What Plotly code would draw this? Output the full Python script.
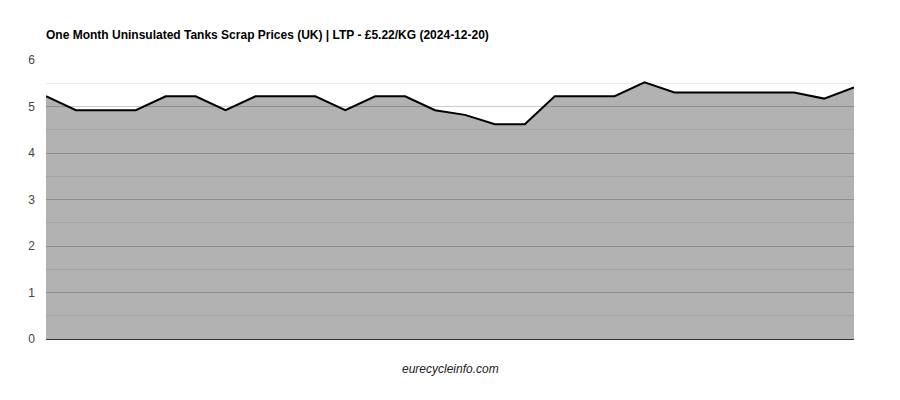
import plotly.graph_objects as go

dates = ["2024-11-23", "2024-11-24", "2024-11-25", "2024-11-26", "2024-11-27", "2024-11-28",
         "2024-11-29", "2024-11-30", "2024-12-01", "2024-12-02", "2024-12-03", "2024-12-04",
         "2024-12-05", "2024-12-06", "2024-12-07", "2024-12-08", "2024-12-09", "2024-12-10",
         "2024-12-11", "2024-12-12", "2024-12-13", "2024-12-14", "2024-12-15", "2024-12-16",
         "2024-12-17", "2024-12-18", "2024-12-19", "2024-12-20"]
prices = [5.22, 4.92, 4.92, 4.92, 5.22, 5.22, 4.92, 5.22, 5.22, 5.22, 4.92, 5.22, 5.22, 4.92,
          4.82, 4.62, 4.62, 5.22, 5.22, 5.22, 5.52, 5.30, 5.30, 5.30, 5.30, 5.30, 5.17, 5.41]
y_ticks = [0, 1, 2, 3, 4, 5, 6]

title_text = "One Month Uninsulated Tanks Scrap Prices (UK) | LTP - £5.22/KG (2024-12-20)"
source_text = "eurecycleinfo.com"

# page body has an 8px margin; compensate so the plot lands where the reference has it
OFF = 8
W, H = 900, 400
plot_l, plot_r, plot_t, plot_b = 46 - OFF, 854 - OFF, 60 - OFF, 339 - OFF

fig = go.Figure()
fig.add_trace(go.Scatter(
    x=dates, y=prices, mode="lines", fill="tozeroy",
    fillcolor="rgba(0,0,0,0.3)",
    line=dict(color="#000000", width=2),
    hoverinfo="x+y",
))

fig.update_layout(
    width=W, height=H,
    margin=dict(l=plot_l, r=W - plot_r, t=plot_t, b=H - plot_b, pad=0),
    plot_bgcolor="white", paper_bgcolor="white",
    showlegend=False,
    font=dict(family="Arial, Liberation Sans, sans-serif", size=12, color="#444"),
    title=dict(text="<b>" + title_text + "</b>", x=plot_l / W, xanchor="left",
               y=1 - (35 - OFF) / H, yanchor="middle", yref="container",
               font=dict(size=12, color="#000")),
    xaxis=dict(type="category", showticklabels=False, showgrid=False, ticks="",
               range=[0, len(dates) - 1], showline=True, linecolor="#333", linewidth=1,
               zeroline=False, fixedrange=True),
    yaxis=dict(range=[0, 6], tickvals=y_ticks, ticktext=[str(v) for v in y_ticks],
               showgrid=True, gridcolor="#cccccc", gridwidth=1, zeroline=False,
               ticks="", ticklen=0, ticklabelstandoff=10,
               tickfont=dict(size=12, color="#444"),
               minor=dict(showgrid=True, gridcolor="#ebebeb", tick0=0, dtick=0.5),
               fixedrange=True),
    annotations=[dict(text="<i>" + source_text + "</i>", x=0.5, xref="paper",
                      y=-(369 - 339) / (339 - 60), yref="paper", yanchor="middle",
                      showarrow=False, font=dict(size=12, color="#222"))],
)

fig.write_html("out.html")
